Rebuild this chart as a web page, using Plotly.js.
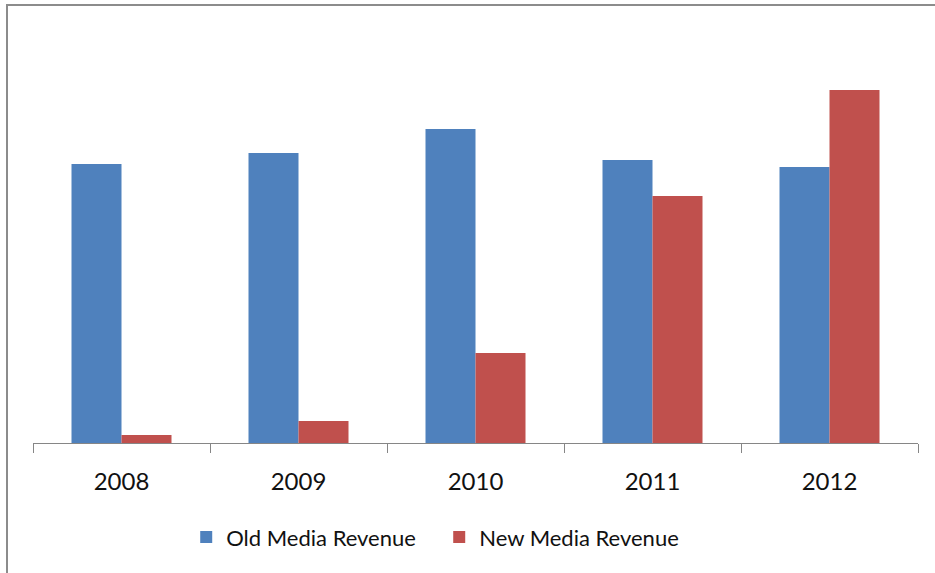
<!DOCTYPE html>
<html>
<head>
<meta charset="utf-8">
<script src="https://cdn.plot.ly/plotly-3.0.1.min.js"></script>
<style>
html,body{margin:0;padding:0;background:#fff;}
#wrap{position:relative;width:935px;height:573px;}
#chart{width:935px;height:573px;}
#frame{position:absolute;left:6px;top:4px;right:0;bottom:0;border-left:2px solid #8c8c8c;border-top:2px solid #8c8c8c;pointer-events:none;}
</style>
</head>
<body>
<div id="wrap"><div id="chart"></div><div id="frame"></div></div>
<script>
const years = ['2008', '2009', '2010', '2011', '2012'];
const oldMedia = [27.9, 29.0, 31.4, 28.3, 27.6];
const newMedia = [0.8, 2.2, 9.0, 24.7, 35.3];
const seriesNames = ['Old Media Revenue', 'New Media Revenue'];

const traces = [
  {type: 'bar', x: years, y: oldMedia, name: seriesNames[0], marker: {color: '#4F81BD'}},
  {type: 'bar', x: years, y: newMedia, name: seriesNames[1], marker: {color: '#C0504D'}}
];

const layout = {
  width: 935, height: 573,
  margin: {l: 33, r: 17, t: 30, b: 130},
  paper_bgcolor: '#ffffff', plot_bgcolor: '#ffffff',
  barmode: 'group', bargap: 0.435, bargroupgap: 0,
  font: {family: 'Lato, sans-serif', size: 24, color: '#111111'},
  xaxis: {
    type: 'category', showline: true, linecolor: '#868686', linewidth: 1,
    ticks: 'outside', tickson: 'boundaries', ticklen: 9, tickcolor: '#868686',
    tickfont: {size: 24, color: '#111111'}, ticklabelstandoff: 17,
    showgrid: false, zeroline: false
  },
  yaxis: {range: [0, 41.3], visible: false, showgrid: false, zeroline: false},
  showlegend: true,
  legend: {orientation: 'h', x: 0.459, xanchor: 'center', y: -0.228, yanchor: 'middle',
           font: {size: 22, color: '#111111'}, traceorder: 'normal', entrywidth: 208}
};

Plotly.newPlot('chart', traces, layout, {displayModeBar: false, staticPlot: true});
</script>
</body>
</html>
